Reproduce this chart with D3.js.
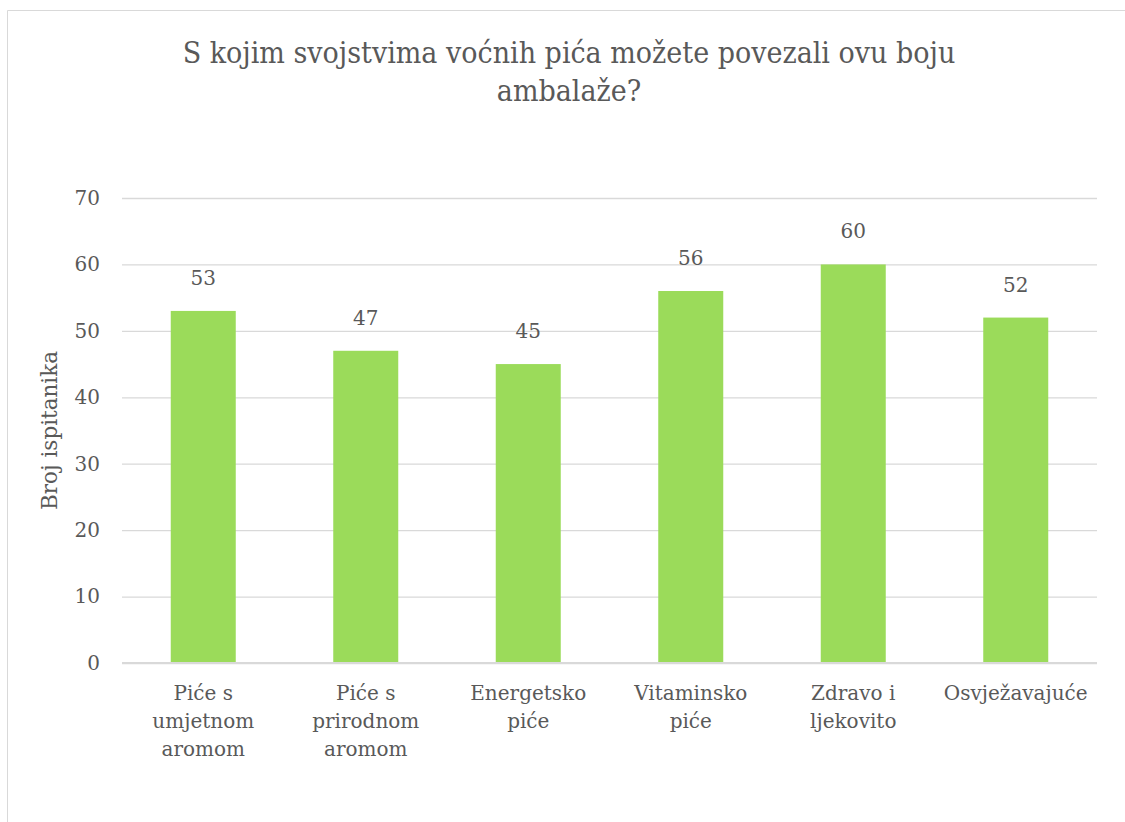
<!DOCTYPE html>
<html>
<head>
<meta charset="utf-8">
<script src="https://cdn.jsdelivr.net/npm/d3@7"></script>
<style>
  html, body { margin: 0; padding: 0; background: #fff; }
  svg { display: block; }
</style>
</head>
<body>
<svg id="chart" width="1125" height="822"></svg>
<script>
// Category labels (each entry is split into display lines)
const categories = [
  ["Piće s", "umjetnom", "aromom"],
  ["Piće s", "prirodnom", "aromom"],
  ["Energetsko", "piće"],
  ["Vitaminsko", "piće"],
  ["Zdravo i", "ljekovito"],
  ["Osvježavajuće"]
];
const values = [53, 47, 45, 56, 60, 52];
const yTicks = [0, 10, 20, 30, 40, 50, 60, 70];
const titleLines = ["S kojim svojstvima voćnih pića možete povezali ovu boju", "ambalaže?"];
const yTitle = "Broj ispitanika";

const W = 1125, H = 822;
const margin = { left: 122, right: 28, top: 198, bottom: 159 };
const textColor = "#595959";
const serif = "'DejaVu Serif', serif";

const svg = d3.select("#chart");

// chart frame
svg.append("path")
  .attr("d", `M7.5,${H} L7.5,10.5 L${W},10.5`)
  .attr("fill", "none")
  .attr("stroke", "#d9d9d9")
  .attr("stroke-width", 1);

const x = d3.scaleBand()
  .domain(d3.range(categories.length))
  .range([margin.left, W - margin.right])
  .paddingInner(0.6)
  .paddingOuter(0.3);

const y = d3.scaleLinear()
  .domain([0, 70])
  .range([H - margin.bottom, margin.top]);

// gridlines + tick labels
const yAxis = d3.axisLeft(y)
  .tickValues(yTicks)
  .tickSize(-(W - margin.right - margin.left))
  .tickPadding(22);

const gy = svg.append("g")
  .attr("transform", `translate(${margin.left},0)`)
  .call(yAxis);
gy.select(".domain").remove();
gy.selectAll(".tick line").attr("stroke", "#d9d9d9").attr("stroke-width", 1.3);
gy.selectAll(".tick text")
  .attr("fill", textColor)
  .style("font-family", serif)
  .style("font-size", "20px");

// bars
svg.append("g").selectAll("rect")
  .data(values)
  .join("rect")
  .attr("x", (d, i) => x(i))
  .attr("width", x.bandwidth())
  .attr("y", d => y(d))
  .attr("height", d => y(0) - y(d))
  .attr("fill", "#9bdb5a");

// baseline
svg.append("line")
  .attr("x1", margin.left).attr("x2", W - margin.right)
  .attr("y1", y(0)).attr("y2", y(0))
  .attr("stroke", "#d9d9d9").attr("stroke-width", 2);

// value labels
svg.append("g").selectAll("text")
  .data(values)
  .join("text")
  .attr("x", (d, i) => x(i) + x.bandwidth() / 2)
  .attr("y", d => y(d) - 26)
  .attr("text-anchor", "middle")
  .attr("fill", textColor)
  .style("font-family", serif)
  .style("font-size", "20px")
  .text(d => d);

// category labels
const cat = svg.append("g").selectAll("text")
  .data(categories)
  .join("text")
  .attr("text-anchor", "middle")
  .attr("fill", textColor)
  .style("font-family", serif)
  .style("font-size", "20px");
cat.selectAll("tspan")
  .data((d, i) => d.map(l => ({ l, i })))
  .join("tspan")
  .attr("x", d => x(d.i) + x.bandwidth() / 2)
  .attr("y", (d, j) => y(0) + 37 + j * 28)
  .text(d => d.l);

// axis title
svg.append("text")
  .attr("transform", `translate(57,${(y(0) + y(70)) / 2}) rotate(-90)`)
  .attr("text-anchor", "middle")
  .attr("fill", textColor)
  .style("font-family", serif)
  .style("font-size", "21.5px")
  .text(yTitle);

// chart title
svg.append("text")
  .attr("text-anchor", "middle")
  .attr("fill", textColor)
  .style("font-family", "'DejaVu Serif Condensed', 'DejaVu Serif', serif")
  .style("font-size", "30px")
  .selectAll("tspan")
  .data(titleLines)
  .join("tspan")
  .attr("x", 569)
  .attr("y", (d, i) => 63 + i * 38)
  .text(d => d);
</script>
</body>
</html>
